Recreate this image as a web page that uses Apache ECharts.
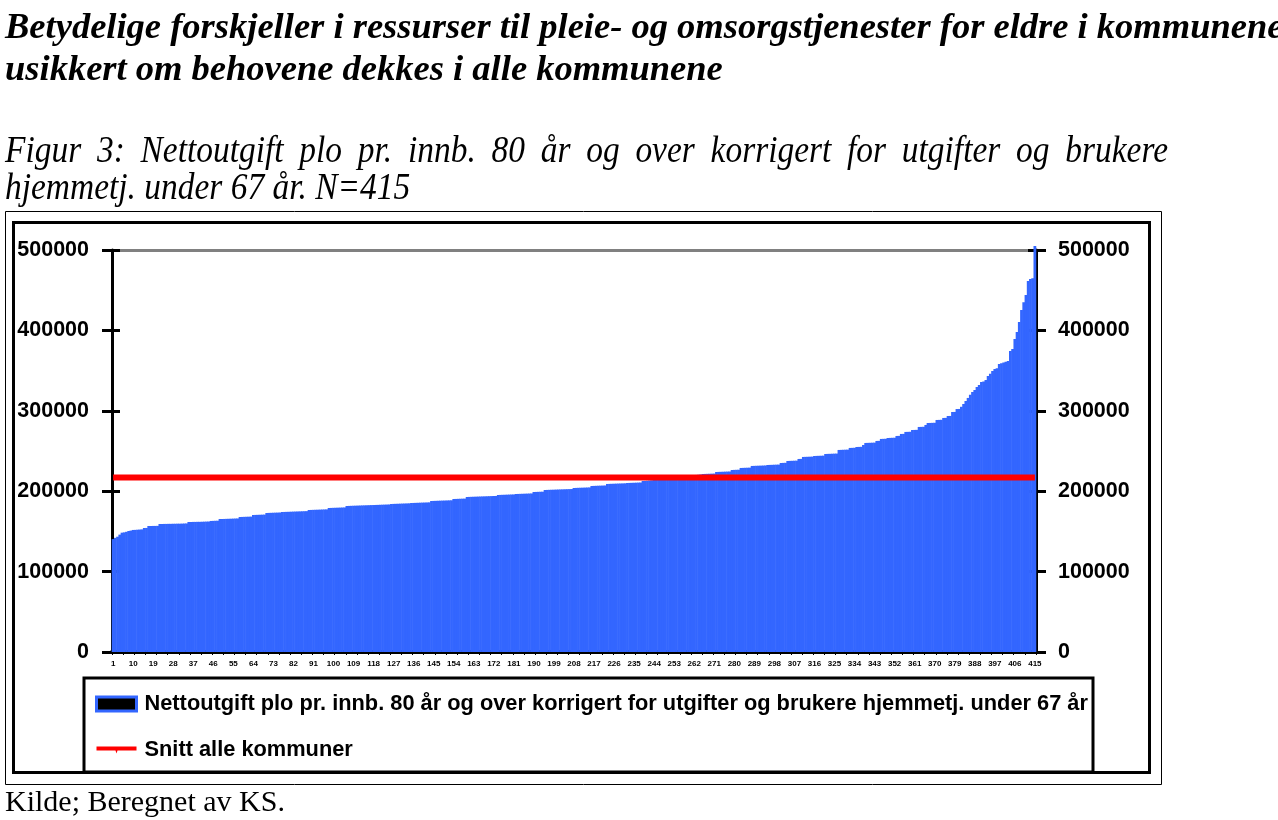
<!DOCTYPE html>
<html>
<head>
<meta charset="utf-8">
<script src="https://cdn.jsdelivr.net/npm/echarts@6/dist/echarts.min.js"></script>
<style>
html,body{margin:0;padding:0;background:#fff;}
#c{width:1278px;height:820px;}
</style>
</head>
<body>
<div id="c"></div>
<script>
// ---- data ----
const seriesName = 'Nettoutgift plo pr. innb. 80 år og over korrigert for utgifter og brukere hjemmetj. under 67 år';
const avgName = 'Snitt alle kommuner';
const avgValue = 217000;
const yTicks = [0, 100000, 200000, 300000, 400000, 500000];
const values = [
140500,142000,143400,146000,148400,148800,149500,150500,151000,151800,
151900,152100,152300,152500,154200,154300,156700,156700,156800,156800,
156900,159200,159200,159300,159300,159400,159400,159500,159500,159600,
159600,159700,159800,159900,161700,161700,161800,161800,161900,161900,
162000,162100,162200,162300,163000,163100,163200,163300,165400,165400,
165500,165600,165700,165800,165900,166000,166100,167900,168000,168100,
168200,168300,168400,170400,170500,170600,170700,170800,170900,172900,
173000,173100,173200,173300,173400,173500,174100,174200,174300,174400,
174500,174600,174700,174800,174900,175000,175100,175200,176600,176700,
176800,176900,177000,177100,177200,177300,177400,179100,179200,179300,
179400,179500,179600,179700,179800,181600,181700,181800,181900,182000,
182100,182200,182300,182400,182500,182600,182700,182800,182900,183000,
183100,183200,183300,183400,183500,184100,184200,184300,184400,184500,
184600,184700,184800,184900,185300,185400,185500,185600,185700,185800,
185900,186000,186100,187800,187900,188000,188100,188200,188300,188400,
188500,188600,188700,190300,190400,190500,190600,190700,190800,192800,
192900,193000,193100,193200,193300,193400,193500,193600,193700,193800,
193900,194000,194100,195300,195400,195500,195600,195700,195800,195900,
196000,196500,196600,196700,196800,196900,197000,197100,197200,199000,
199100,199200,199300,199400,201500,201600,201700,201800,201900,202000,
202100,202200,202300,202400,202500,202600,202700,204000,204100,204200,
204300,204400,204500,204600,204700,206500,206600,206700,206800,206900,
207000,207100,209000,209100,209200,209300,209400,209500,209600,209700,
209800,210200,210300,210400,210500,210600,210700,210800,212700,212800,
213000,213300,213600,214000,214400,214800,215200,215600,216000,216300,
216600,216900,217200,217500,217800,218100,218400,218700,219000,219300,
219600,219900,220200,220500,220800,221400,221500,221600,221700,221800,
221900,223900,224000,224100,224200,224300,224400,224500,226400,226500,
226600,226700,228900,229000,229100,229200,229300,231400,231500,231600,
231700,231800,231900,232000,232600,232700,232800,232900,233000,233100,
235100,235200,235300,237600,237700,237800,237900,238000,240100,240200,
242600,242700,242800,242900,243000,243800,243900,244000,244100,244200,
246300,246400,246500,246600,246700,246800,251300,251400,251500,251600,
251700,253800,253900,254000,255000,255100,255200,257500,260000,260100,
260200,260300,260400,262500,262600,265000,265100,265200,266200,266300,
266400,266500,268700,268800,271200,271300,273700,273800,273900,276100,
276200,276300,279900,280000,280100,282400,284800,284900,285000,285100,
288600,288700,288800,291100,291200,293500,293600,298500,298600,302200,
302300,305000,308500,312200,316000,320000,323400,326000,329600,332000,
335800,336500,338300,343300,346000,349500,352000,353000,358200,359000,
360000,361000,362000,374400,376900,389300,398000,410400,425400,435000,
444000,461500,463800,465000,505000
];
const categories = values.map((v, i) => String(i + 1));
const avgLine = categories.map(() => avgValue);

const titleLines = ['Betydelige forskjeller i ressurser til pleie- og omsorgstjenester for eldre i kommunene',
                    'usikkert om behovene dekkes i alle kommunene'];
const subtitleLines = ['Figur 3: Nettoutgift plo pr. innb. 80 år og over korrigert for utgifter og brukere',
                       'hjemmetj. under 67 år. N=415'];
const sourceText = 'Kilde; Beregnet av KS.';

const serif = "'Liberation Serif', 'Times New Roman', serif";
const sans = "'Liberation Sans', Arial, sans-serif";
const yMin = yTicks[0], yMax = yTicks[yTicks.length - 1], yStep = yTicks[1] - yTicks[0];

// justified first subtitle line (word placement)
const SUB_FONT = 'italic 38px ' + serif, SUB_SX = 0.88;
const mctx = document.createElement('canvas').getContext('2d');
mctx.font = SUB_FONT;
const words = subtitleLines[0].split(' ');
const wW = words.map(w => mctx.measureText(w).width * SUB_SX);
const sumW = wW.reduce((a, b) => a + b, 0);
const gapW = (1163 - sumW) / (words.length - 1);
const subGraphics = [];
let cx = 5;
words.forEach((w, i) => {
  subGraphics.push({type: 'text', x: cx, y: 133, scaleX: SUB_SX, scaleY: 1,
    style: {x: 0, y: 0, text: w, font: SUB_FONT, fill: '#000', verticalAlign: 'top'}});
  cx += wW[i] + gapW;
});
subGraphics.push({type: 'text', x: 5, y: 170, scaleX: SUB_SX, scaleY: 1,
  style: {x: 0, y: 0, text: subtitleLines[1], font: SUB_FONT, fill: '#000', verticalAlign: 'top'}});

const chart = echarts.init(document.getElementById('c'), null, {renderer: 'canvas'});

function yAxisDef(pos, showLabel, tickInside) {
  return {
    type: 'value', position: pos, min: yMin, max: yMax, interval: yStep, offset: 0,
    axisLine: {show: showLabel, lineStyle: {color: '#000', width: 3}},
    axisTick: {show: true, inside: tickInside, length: tickInside ? 8 : 10, lineStyle: {color: '#000', width: 3}},
    axisLabel: {show: showLabel, margin: pos === 'left' ? 23 : 22, color: '#000', fontFamily: sans, fontWeight: 'bold', fontSize: 21.5,
      formatter: v => String(v)},
    splitLine: {show: pos === 'left' && showLabel, lineStyle: {color: ['rgba(0,0,0,0)','rgba(0,0,0,0)','rgba(0,0,0,0)','rgba(0,0,0,0)','rgba(0,0,0,0)','#808080'], width: 3}}
  };
}

chart.setOption({
  animation: false,
  backgroundColor: '#fff',
  grid: {left: 112, right: 242, top: 250, bottom: 168, containLabel: false, outerBoundsMode: 'none'},
  xAxis: {
    type: 'category', data: categories, boundaryGap: true,
    axisLine: {show: true, lineStyle: {color: '#000', width: 4}},
    axisTick: {show: true, interval: 4, length: 3, lineStyle: {color: '#000', width: 1}},
    axisLabel: {interval: 8, margin: 8, color: '#000', fontSize: 8, fontWeight: 'bold', fontFamily: sans},
    splitLine: {show: false}
  },
  yAxis: [
    yAxisDef('left', true, false),
    yAxisDef('right', true, false),
    yAxisDef('left', false, true),
    yAxisDef('right', false, true)
  ],
  legend: {
    orient: 'vertical', left: 95, top: 693, padding: 0,
    itemWidth: 40, itemHeight: 14, itemGap: 24, symbolKeepAspect: true,
    textStyle: {color: '#000', fontFamily: sans, fontWeight: 'bold', fontSize: 21.8, lineHeight: 22, padding: [0,0,0,3]},
    data: [
      {name: seriesName, icon: 'rect', itemStyle: {color: '#000', borderColor: '#3366FF', borderWidth: 3}},
      {name: avgName, icon: 'path://M0,0 H40 V4 H0 Z M19,4 L21,4 L20,7 Z', itemStyle: {color: '#FF0000'}}
    ]
  },
  series: [
    {
      name: seriesName, type: 'bar', data: values, barWidth: '125%', clip: false,
      itemStyle: {color: '#3366FF'}, emphasis: {disabled: true}
    },
    {
      name: avgName, type: 'line', data: avgLine, symbol: 'none', z: 5,
      lineStyle: {color: '#FF0000', width: 6}, itemStyle: {color: '#FF0000'}, emphasis: {disabled: true}
    }
  ],
  graphic: [
    {type: 'text', x: 5, y: 10, style: {x: 0, y: 0, text: titleLines[0], font: 'italic bold 36.5px ' + serif, fill: '#000', verticalAlign: 'top'}},
    {type: 'text', x: 5, y: 52, style: {x: 0, y: 0, text: titleLines[1], font: 'italic bold 36.5px ' + serif, fill: '#000', verticalAlign: 'top'}},
    ...subGraphics,
    {type: 'text', x: 5, y: 788, style: {x: 0, y: 0, text: sourceText, font: '30px ' + serif, fill: '#000', verticalAlign: 'top'}},
    {type: 'rect', shape: {x: 5.5, y: 211.5, width: 1156, height: 573}, style: {fill: 'none', stroke: '#000', lineWidth: 1}, z: -1},
    {type: 'rect', shape: {x: 13.5, y: 222.5, width: 1136, height: 550}, style: {fill: 'none', stroke: '#000', lineWidth: 3}, z: -1},
    {type: 'rect', shape: {x: 84, y: 678, width: 1009, height: 94}, style: {fill: 'none', stroke: '#000', lineWidth: 3}, z: -1}
  ]
});
</script>
</body>
</html>
